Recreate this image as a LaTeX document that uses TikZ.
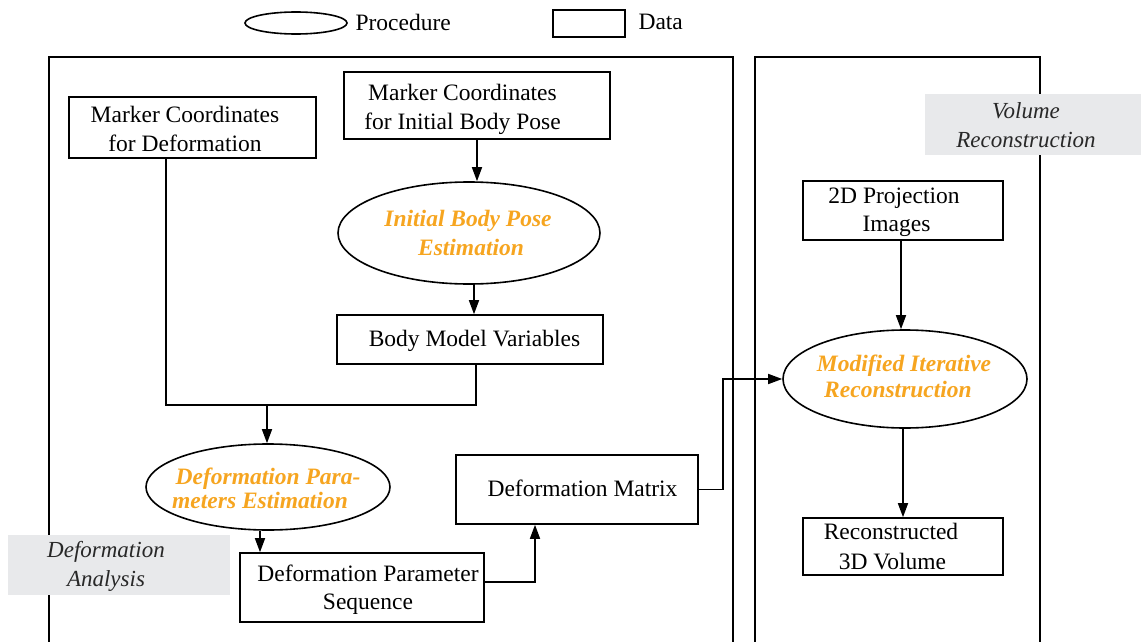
\documentclass[tikz,border=0pt]{standalone}
\usepackage{fontspec}
\setmainfont{Liberation Serif}
\usetikzlibrary{shapes.geometric,arrows.meta,calc}
\definecolor{procorange}{RGB}{246,165,32}
\definecolor{panelgray}{RGB}{232,233,235}
\definecolor{paneltext}{RGB}{40,40,40}
\begin{document}
\begin{tikzpicture}[x=1pt,y=-1pt,
  every node/.style={font=\fontsize{23.5}{28.5}\selectfont},
  databox/.style={draw, line width=1.6pt, rectangle, inner sep=0pt},
  procell/.style={draw, line width=1.6pt, ellipse, inner sep=0pt},
  boxtxt/.style={align=center, inner sep=0pt},
  proctxt/.style={align=center, inner sep=0pt, text=procorange,
    font=\fontsize{23.5}{29}\selectfont\bfseries\itshape},
  panel/.style={fill=panelgray, inner sep=0pt},
  paneltxt/.style={align=center, inner sep=0pt, text=paneltext,
    font=\fontsize{23}{29}\selectfont\itshape},
  frame/.style={line width=1.6pt},
  link/.style={line width=1.6pt},
  arr/.style={line width=1.6pt, -{Triangle[length=14pt,width=10pt]}}]
\useasboundingbox (0,0) rectangle (1141,642);

% legend
\node[procell, minimum width=102pt, minimum height=22pt] (legP) at (296,23) {};
\node[anchor=west] (legPt) at (352,22) {Procedure};
\node[databox, minimum width=72pt, minimum height=27pt] (legD) at (589,23.5) {};
\node[anchor=west] (legDt) at (635,22) {Data};

% section frames (open at the bottom)
\draw[frame] (49,642) -- (49,57) -- (733,57) -- (733,642);
\draw[frame] (755,642) -- (755,57) -- (1040,57) -- (1040,642);

% section captions
\node[panel, minimum width=216pt, minimum height=61pt] (vrp) at (1033,124.5) {};
\node[paneltxt] (vrt) at (1026,125) {Volume\\Reconstruction};
\node[panel, minimum width=222pt, minimum height=60pt] (dap) at (119,565) {};
\node[paneltxt] (dat) at (106,566) {Deformation\\Analysis};

% data boxes
\node[databox, minimum width=247pt, minimum height=61pt] (mcd) at (192.5,127.5) {};
\node[databox, minimum width=266pt, minimum height=67pt] (mcp) at (477,105.5) {};
\node[databox, minimum width=266pt, minimum height=49pt] (bmv) at (470,339.5) {};
\node[databox, minimum width=244pt, minimum height=69pt] (dps) at (362,587.5) {};
\node[databox, minimum width=242pt, minimum height=69pt] (dm) at (577,489.5) {};
\node[databox, minimum width=200pt, minimum height=59pt] (proj) at (903,210.5) {};
\node[databox, minimum width=200pt, minimum height=57pt] (rec) at (903,546.5) {};

\node[boxtxt] (mcdT) at ($(mcd)+(-7.5,1.5)$) {Marker Coordinates\\for Deformation};
\node[boxtxt] (mcpT) at ($(mcp)+(-14.5,4)$) {Marker Coordinates\\for Initial Body Pose};
\node[boxtxt] (bmvT) at ($(bmv)+(4.5,1.5)$) {Body Model Variables};
\node[boxtxt, font=\fontsize{23.5}{27.5}\selectfont] (dpsT) at ($(dps)+(6,2)$) {Deformation Parameter\\Sequence};
\node[boxtxt] (dmT) at ($(dm)+(5.5,-1.5)$) {Deformation Matrix};
\node[boxtxt] (projT) at ($(proj)+(-9,2)$) {2D Projection\\\hspace*{5pt}Images};
\node[boxtxt, font=\fontsize{23.5}{29.5}\selectfont] (recT) at ($(rec)+(-12,0)$) {Reconstructed\\\hspace*{3pt}3D Volume};

% procedures
\node[procell, minimum width=262pt, minimum height=102pt] (ibp) at (469,233) {};
\node[procell, minimum width=244pt, minimum height=86pt] (dpe) at (268,487) {};
\node[procell, minimum width=244pt, minimum height=98pt] (mir) at (905,379) {};

\node[proctxt] (ibpT) at ($(ibp)+(-1,0)$) {Initial Body Pose\\\hspace*{6pt}Estimation};
\node[proctxt, font=\fontsize{23.5}{24}\selectfont\bfseries\itshape] (dpeT) at ($(dpe)+(0,1)$) {Deformation Para-\\\hspace*{-16pt}meters Estimation};
\node[proctxt, font=\fontsize{23.5}{26}\selectfont\bfseries\itshape] (mirT) at ($(mir)+(-1,-2.5)$) {Modified Iterative\\\hspace*{-12pt}Reconstruction};

% connectors
\draw[arr] (mcp.south) -- (mcp.south |- ibp.north);
\draw[arr] ([xshift=5pt]ibp.south) -- ([xshift=5pt]ibp.south |- bmv.north);
\coordinate (join) at (267,405);
\draw[link] ([xshift=-26.5pt]mcd.south) |- (join) -| ([xshift=6pt]bmv.south);
\draw[arr] (join) -- (join |- dpe.north);
\draw[arr] ([xshift=-8pt]dpe.south) -- ([xshift=-8pt]dpe.south |- dps.north);
\draw[arr] ([yshift=5.5pt]dps.east) -| ([xshift=-42pt]dm.south);
\draw[arr] (dm.east) -- ++(24pt,0) |- (mir.west);
\draw[arr] ([xshift=-2pt]proj.south) -- ([xshift=-2pt]proj.south |- mir.north);
\draw[arr] ([xshift=-2pt]mir.south) -- ([xshift=-2pt]mir.south |- rec.north);
\end{tikzpicture}
\end{document}
